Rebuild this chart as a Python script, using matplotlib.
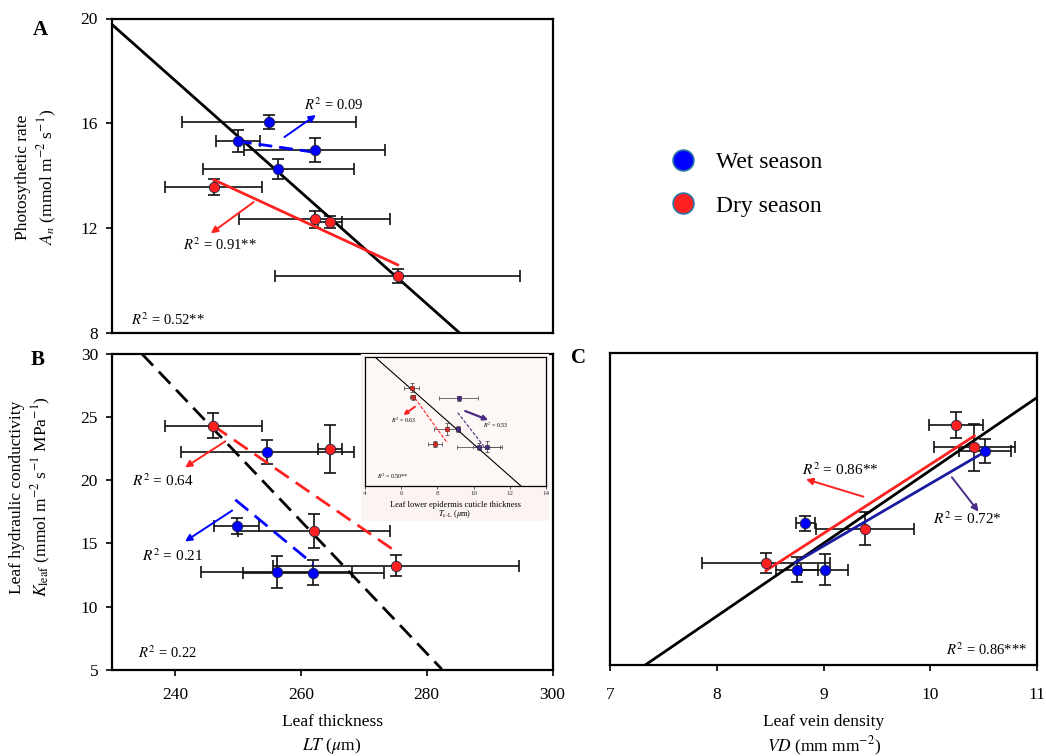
import matplotlib
matplotlib.use("Agg")
import matplotlib.pyplot as plt
from matplotlib.lines import Line2D
from matplotlib.patches import Rectangle
import numpy as np

plt.rcParams['font.family'] = ['Liberation Serif', 'DejaVu Serif']
plt.rcParams['mathtext.fontset'] = 'stix'

# ---------------- data ----------------
# Panel A: photosynthetic rate vs leaf thickness
A_wet_LT = [254.9, 250.0, 262.2, 256.4]
A_wet_LT_err = [13.8, 3.5, 11.2, 12.0]
A_wet_An = [16.06, 15.32, 15.0, 14.27]
A_wet_An_err = [0.26, 0.42, 0.46, 0.37]
A_dry_LT = [246.2, 262.2, 264.7, 275.4]
A_dry_LT_err = [7.7, 12.0, 1.9, 19.5]
A_dry_An = [13.58, 12.34, 12.24, 10.18]
A_dry_An_err = [0.30, 0.33, 0.24, 0.27]
A_fit_all_x = [230.0, 285.3]
A_fit_all_y = [19.77, 8.0]
A_fit_dry_x = [246.2, 275.4]
A_fit_dry_y = [13.85, 10.61]
A_fit_wet_x = [250.0, 262.2]
A_fit_wet_y = [15.32, 14.90]

# Panel B: leaf hydraulic conductivity vs leaf thickness
B_wet_LT = [254.7, 249.8, 256.2, 262.0]
B_wet_LT_err = [13.8, 3.55, 12.0, 11.2]
B_wet_K = [22.2, 16.4, 12.73, 12.7]
B_wet_K_err = [0.96, 0.63, 1.24, 0.95]
B_dry_LT = [246.1, 264.6, 262.1, 275.1]
B_dry_LT_err = [7.7, 1.9, 12.0, 19.5]
B_dry_K = [24.3, 22.46, 16.0, 13.25]
B_dry_K_err = [1.0, 1.9, 1.36, 0.8]
B_fit_all_x = [234.7, 282.4]
B_fit_all_y = [30.0, 5.07]
B_fit_dry_x = [246.1, 275.1]
B_fit_dry_y = [24.3, 14.36]
B_fit_wet_x = [249.6, 262.0]
B_fit_wet_y = [18.45, 13.36]

# Inset: Kleaf vs lower epidermis cuticle thickness
I_dry_T = [6.58, 6.63, 8.51, 7.85]
I_dry_T_err = [0.43, 0.15, 0.70, 0.39]
I_dry_K = [24.05, 22.2, 16.0, 13.1]
I_dry_K_err = [0.87, 0.5, 1.2, 0.5]
I_wet_T = [9.18, 9.15, 10.28, 10.76]
I_wet_T_err = [1.07, 0.1, 1.2, 0.8]
I_wet_K = [22.0, 16.0, 12.6, 12.6]
I_wet_K_err = [0.5, 0.5, 0.6, 1.0]
I_fit_all_x = [4.55, 12.6]
I_fit_all_y = [30.0, 5.0]
I_fit_dry_x = [6.76, 8.55]
I_fit_dry_y = [22.0, 13.3]
I_fit_wet_x = [9.12, 10.69]
I_fit_wet_y = [19.2, 12.1]

# Panel C: Kleaf vs leaf vein density
C_wet_VD = [10.51, 8.83, 8.75, 9.01]
C_wet_VD_err = [0.245, 0.09, 0.2, 0.22]
C_wet_K = [22.17, 16.37, 12.65, 12.65]
C_wet_K_err = [0.97, 0.6, 1.03, 1.23]
C_dry_VD = [10.24, 10.41, 9.385, 8.46]
C_dry_VD_err = [0.255, 0.38, 0.46, 0.6]
C_dry_K = [24.27, 22.46, 15.93, 13.18]
C_dry_K_err = [1.04, 1.87, 1.32, 0.8]
C_fit_all_x = [7.33, 11.0]
C_fit_all_y = [5.0, 26.47]
C_fit_dry_x = [8.46, 10.41]
C_fit_dry_y = [12.57, 23.37]
C_fit_wet_x = [8.73, 10.51]
C_fit_wet_y = [13.2, 22.1]

A_yticks = [8, 12, 16, 20]
B_yticks = [5, 10, 15, 20, 25, 30]
LT_ticks = [240, 260, 280, 300]
VD_ticks = [7, 8, 9, 10, 11]
I_ticks = [4, 6, 8, 10, 12, 14]

BLUE = '#0000ff'
RED = '#ff2020'
PURPLE = '#4a2c86'
R2FS = 10.5

W, H = 1046, 756
fig = plt.figure(figsize=(W / 100, H / 100), dpi=100)


def frac(l, t, r, b):
    return [l / W, 1 - b / H, (r - l) / W, (b - t) / H]


def style(ax):
    for s in ax.spines.values():
        s.set_linewidth(1.6)
        s.set_color('black')
    ax.tick_params(direction='out', length=4, width=1.2, labelsize=12.5, pad=6)


def pts(ax, x, xe, y, ye, color, ms=7.5):
    ax.errorbar(x, y, xerr=xe, yerr=ye, fmt='none', ecolor='#111111',
                elinewidth=1.2, capsize=4, capthick=1.2, zorder=2)
    ax.plot(x, y, 'o', color=color, mec='#202040', mew=0.6, ms=ms,
            zorder=3, linestyle='none')


def arrow(ax, xy_from, xy_to, color, lw=1.4, ms=10):
    ax.annotate('', xy=xy_to, xytext=xy_from,
                arrowprops=dict(arrowstyle='-|>', color=color, lw=lw,
                                mutation_scale=ms, shrinkA=0, shrinkB=0),
                zorder=5)


# ---------------- Panel A ----------------
axA = fig.add_axes(frac(112, 18.5, 552.5, 333.3))
style(axA)
axA.set_xlim(230, 300)
axA.set_ylim(8, 20)
axA.set_yticks(A_yticks)
axA.set_xticks([])
axA.plot(A_fit_all_x, A_fit_all_y, color='black', lw=2, zorder=2.5)
axA.plot(A_fit_dry_x, A_fit_dry_y, color=RED, lw=2, zorder=2.5)
axA.plot(A_fit_wet_x, A_fit_wet_y, color=BLUE, lw=2, ls=(0, (5, 2.5)), zorder=2.5)
pts(axA, A_wet_LT, A_wet_LT_err, A_wet_An, A_wet_An_err, BLUE)
pts(axA, A_dry_LT, A_dry_LT_err, A_dry_An, A_dry_An_err, RED)
arrow(axA, (257.4, 15.48), (262.4, 16.32), BLUE)
axA.text(260.5, 16.7, r'$R^2$ = 0.09', fontsize=R2FS, va='center')
arrow(axA, (252.5, 13.0), (245.7, 11.81), RED)
axA.text(241.3, 11.37, r'$R^2$ = 0.91**', fontsize=R2FS, va='center')
axA.text(233.0, 8.5, r'$R^2$ = 0.52**', fontsize=R2FS, va='center')

# ---------------- Panel B ----------------
axB = fig.add_axes(frac(112, 353.5, 552.5, 670))
style(axB)
axB.set_xlim(230, 300)
axB.set_ylim(5, 30)
axB.set_yticks(B_yticks)
axB.set_xticks(LT_ticks)
axB.tick_params(axis='x', pad=8)
axB.plot(B_fit_all_x, B_fit_all_y, color='black', lw=2, ls=(0, (6, 3)), zorder=2.5)
axB.plot(B_fit_dry_x, B_fit_dry_y, color=RED, lw=2, ls=(0, (6, 3)), zorder=2.5)
axB.plot(B_fit_wet_x, B_fit_wet_y, color=BLUE, lw=2, ls=(0, (6, 3)), zorder=2.5)
pts(axB, B_wet_LT, B_wet_LT_err, B_wet_K, B_wet_K_err, BLUE)
pts(axB, B_dry_LT, B_dry_LT_err, B_dry_K, B_dry_K_err, RED)
arrow(axB, (248.0, 23.06), (241.6, 21.0), RED)
axB.text(233.1, 19.95, r'$R^2$ = 0.64', fontsize=R2FS + 0.5, va='center')
arrow(axB, (249.1, 17.6), (241.6, 15.15), BLUE)
axB.text(234.7, 14.04, r'$R^2$ = 0.21', fontsize=R2FS + 0.5, va='center')
axB.text(234.2, 6.35, r'$R^2$ = 0.22', fontsize=R2FS, va='center')

# ---------------- Inset ----------------
fig.patches.append(Rectangle((361 / W, 1 - 521 / H), 188 / W, 167 / H,
                             transform=fig.transFigure, facecolor='#fcf4f2',
                             edgecolor='none', zorder=5))
axI = fig.add_axes(frac(365, 357, 546, 485.7))
axI.set_zorder(6)
axI.set_facecolor('#fdf7f5')
for s in axI.spines.values():
    s.set_linewidth(0.9)
axI.set_xlim(4, 14)
axI.set_ylim(5, 30)
axI.set_yticks([])
axI.set_xticks(I_ticks)
axI.tick_params(axis='x', direction='out', length=2, width=0.6, labelsize=5, pad=2, colors='#333333')
axI.plot(I_fit_all_x, I_fit_all_y, color='black', lw=0.8, zorder=2.5)
axI.plot(I_fit_dry_x, I_fit_dry_y, color=RED, lw=0.8, ls=(0, (3, 1.5)), zorder=2.5)
axI.plot(I_fit_wet_x, I_fit_wet_y, color=PURPLE, lw=0.8, ls=(0, (3, 1.5)), zorder=2.5)
axI.errorbar(I_dry_T, I_dry_K, xerr=I_dry_T_err, yerr=I_dry_K_err, fmt='none',
             ecolor='#555555', elinewidth=0.6, capsize=1.5, capthick=0.6, zorder=2)
axI.errorbar(I_wet_T, I_wet_K, xerr=I_wet_T_err, yerr=I_wet_K_err, fmt='none',
             ecolor='#555555', elinewidth=0.6, capsize=1.5, capthick=0.6, zorder=2)
axI.plot(I_dry_T, I_dry_K, 's', color='#d42a2a', mec='#6a1010', mew=0.4, ms=2.8, zorder=3)
axI.plot(I_wet_T, I_wet_K, 's', color=PURPLE, mec='#201040', mew=0.4, ms=2.8, zorder=3)
arrow(axI, (6.76, 20.35), (6.12, 18.73), RED, lw=1.4, ms=6)
arrow(axI, (9.54, 19.5), (10.81, 17.76), PURPLE, lw=1.6, ms=7)
axI.text(5.42, 17.76, r'$R^2$ = 0.63', fontsize=4.3, va='center')
axI.text(10.54, 16.8, r'$R^2$ = 0.53', fontsize=4.3, va='center')
axI.text(4.65, 6.75, r'$R^2$ = 0.50**', fontsize=4.3, va='center')
fig.text(455 / W, 1 - 505 / H, 'Leaf lower epidermis cuticle thickness',
         fontsize=6, ha='center', va='center', zorder=7)
fig.text(455 / W, 1 - 514.5 / H, r'$T_{\rm c\text{-}L}$ ($\mu$m)',
         fontsize=6, ha='center', va='center', zorder=7)

# ---------------- Panel C ----------------
axC = fig.add_axes(frac(610, 353.3, 1037.3, 665))
style(axC)
axC.set_xlim(7, 11)
axC.set_ylim(5, 30)
axC.set_yticks([])
axC.set_xticks(VD_ticks)
axC.tick_params(axis='x', pad=12)
axC.plot(C_fit_all_x, C_fit_all_y, color='black', lw=2, zorder=2.5)
axC.plot(C_fit_dry_x, C_fit_dry_y, color=RED, lw=2, zorder=2.5)
axC.plot(C_fit_wet_x, C_fit_wet_y, color='#1a1aa0', lw=2, zorder=2.5)
pts(axC, C_wet_VD, C_wet_VD_err, C_wet_K, C_wet_K_err, BLUE)
pts(axC, C_dry_VD, C_dry_VD_err, C_dry_K, C_dry_K_err, RED)
arrow(axC, (9.372, 18.5), (8.835, 19.9), RED)
axC.text(8.795, 20.64, r'$R^2$ = 0.86**', fontsize=R2FS + 0.5, va='center')
arrow(axC, (10.2, 20.06), (10.45, 17.3), PURPLE)
axC.text(10.02, 16.71, r'$R^2$ = 0.72*', fontsize=R2FS + 0.5, va='center')
axC.text(10.15, 6.2, r'$R^2$ = 0.86***', fontsize=R2FS, va='center')

# ---------------- labels ----------------
fig.text(40 / W, 1 - 30 / H, 'A', fontsize=15, fontweight='bold', ha='center', va='center')
fig.text(38 / W, 1 - 360 / H, 'B', fontsize=15, fontweight='bold', ha='center', va='center')
fig.text(579 / W, 1 - 358 / H, 'C', fontsize=15, fontweight='bold', ha='center', va='center')

fig.text(37 / W, 1 - 177 / H,
         'Photosythetic rate\n' + r'$A_n$ (mmol m$^{-2}$ s$^{-1}$)',
         fontsize=12.5, rotation=90, ha='center', va='center',
         multialignment='center', linespacing=1.3)
fig.text(31 / W, 1 - 497 / H,
         'Leaf hydraulic conductivity\n' + r'$K_{\rm leaf}$ (mmol m$^{-2}$ s$^{-1}$ MPa$^{-1}$)',
         fontsize=12.5, rotation=90, ha='center', va='center',
         multialignment='center', linespacing=1.3)

fig.text(332 / W, 1 - 722 / H, 'Leaf thickness', fontsize=12.5, ha='center', va='center')
fig.text(332 / W, 1 - 746 / H, r'$LT$ ($\mu$m)', fontsize=12.5, ha='center', va='center')
fig.text(823.6 / W, 1 - 722 / H, 'Leaf vein density', fontsize=12.5, ha='center', va='center')
fig.text(823.6 / W, 1 - 746 / H, r'$VD$ (mm mm$^{-2}$)', fontsize=12.5, ha='center', va='center')

# ---------------- legend ----------------
handles = [Line2D([], [], marker='o', ls='none', color=BLUE, mec='#2a78a8', mew=1.2, ms=15),
           Line2D([], [], marker='o', ls='none', color=RED, mec='#2a78a8', mew=1.2, ms=15)]
fig.legend(handles, ['Wet season', 'Dry season'], loc='center left',
           bbox_to_anchor=(650 / W, 1 - 184 / H), frameon=False, fontsize=17,
           handlelength=1.0, handletextpad=0.9, labelspacing=0.95)

fig.savefig('out.png', dpi=100)
